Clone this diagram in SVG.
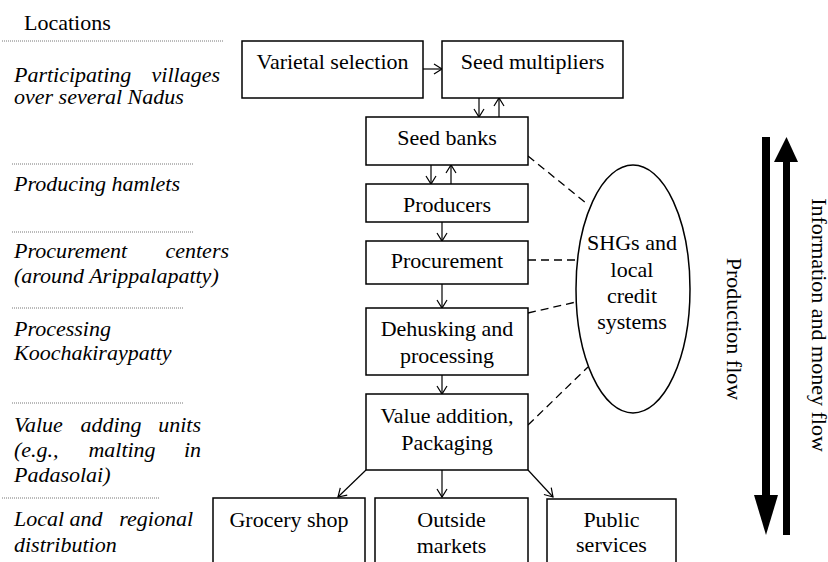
<svg xmlns="http://www.w3.org/2000/svg" width="828" height="562" viewBox="0 0 828 562">
<style>
  text { font-size: 22px; fill: #000; }
  .it { font-style: italic; }
  .c { text-anchor: middle; }
  .e { text-anchor: end; }
  .box { fill: #fff; stroke: #000; stroke-width: 1.5; }
  .dot { stroke: #777; stroke-width: 1; stroke-dasharray: 1 1; fill: none; }
  .arr { stroke: #000; stroke-width: 1.2; fill: none; marker-end: url(#open); }
  .dash { stroke: #000; stroke-width: 1.3; stroke-dasharray: 8 5; fill: none; }
</style>
<defs>
  <marker id="open" markerUnits="userSpaceOnUse" markerWidth="12" markerHeight="12" viewBox="-10 -6 12 12" refX="0" refY="0" orient="auto">
    <path d="M-8,-5 L0,0 L-8,5" fill="none" stroke="#000" stroke-width="1.2"/>
  </marker>
</defs>
<rect width="828" height="562" fill="#fff"/>

<g id="locations">
  <text font-family="Liberation Serif" x="24" y="30">Locations</text>
  <line class="dot" x1="2" y1="41" x2="223" y2="41"/>
  <text font-family="Liberation Serif" class="it" x="14" y="82">Participating</text>
  <text font-family="Liberation Serif" class="it e" x="220" y="82">villages</text>
  <text font-family="Liberation Serif" class="it" x="14" y="104">over several Nadus</text>
  <line class="dot" x1="12" y1="164" x2="194" y2="164"/>
  <text font-family="Liberation Serif" class="it" x="14" y="191">Producing hamlets</text>
  <line class="dot" x1="12" y1="232" x2="194" y2="232"/>
  <text font-family="Liberation Serif" class="it" x="14" y="258">Procurement</text>
  <text font-family="Liberation Serif" class="it e" x="229" y="258">centers</text>
  <text font-family="Liberation Serif" class="it" x="14" y="283">(around Arippalapatty)</text>
  <line class="dot" x1="12" y1="308" x2="184" y2="308"/>
  <text font-family="Liberation Serif" class="it" x="14" y="336">Processing</text>
  <text font-family="Liberation Serif" class="it" x="14" y="360">Koochakiraypatty</text>
  <line class="dot" x1="12" y1="403" x2="184" y2="403"/>
  <text font-family="Liberation Serif" class="it" x="14" y="432">Value</text>
  <text font-family="Liberation Serif" class="it c" x="111" y="432">adding</text>
  <text font-family="Liberation Serif" class="it e" x="201" y="432">units</text>
  <text font-family="Liberation Serif" class="it" x="14" y="457">(e.g.,</text>
  <text font-family="Liberation Serif" class="it c" x="122" y="457">malting</text>
  <text font-family="Liberation Serif" class="it e" x="201" y="457">in</text>
  <text font-family="Liberation Serif" class="it" x="14" y="482">Padasolai)</text>
  <line class="dot" x1="2" y1="498" x2="160" y2="498"/>
  <text font-family="Liberation Serif" class="it" x="14" y="526">Local</text>
  <text font-family="Liberation Serif" class="it c" x="86" y="526">and</text>
  <text font-family="Liberation Serif" class="it e" x="193" y="526">regional</text>
  <text font-family="Liberation Serif" class="it" x="14" y="552">distribution</text>
</g>

<g id="connectors">
  <line class="arr" x1="423" y1="69" x2="442" y2="69"/>
  <line class="arr" x1="479" y1="98" x2="479" y2="117"/>
  <line class="arr" x1="499" y1="117" x2="499" y2="98"/>
  <line class="arr" x1="431" y1="165" x2="431" y2="184"/>
  <line class="arr" x1="451" y1="184" x2="451" y2="165"/>
  <line class="arr" x1="442" y1="222" x2="442" y2="241"/>
  <line class="arr" x1="442" y1="284" x2="442" y2="308"/>
  <line class="arr" x1="442" y1="375" x2="442" y2="394"/>
  <line class="arr" x1="366" y1="470" x2="338" y2="497"/>
  <line class="arr" x1="442" y1="470" x2="442" y2="497"/>
  <line class="arr" x1="528" y1="470" x2="553" y2="497"/>
  <line class="dash" x1="528" y1="156" x2="586" y2="203"/>
  <line class="dash" x1="528" y1="260" x2="577" y2="260"/>
  <line class="dash" x1="528" y1="313" x2="576" y2="302"/>
  <line class="dash" x1="528" y1="425" x2="588" y2="367"/>
</g>

<g id="varietal-selection">
  <rect class="box" x="242" y="41" width="181" height="57"/>
  <text font-family="Liberation Serif" class="c" x="332.5" y="69">Varietal selection</text>
</g>
<g id="seed-multipliers">
  <rect class="box" x="442" y="41" width="181" height="57"/>
  <text font-family="Liberation Serif" class="c" x="532.5" y="69">Seed multipliers</text>
</g>
<g id="seed-banks">
  <rect class="box" x="366" y="117" width="162" height="48"/>
  <text font-family="Liberation Serif" class="c" x="447" y="145">Seed banks</text>
</g>
<g id="producers">
  <rect class="box" x="366" y="184" width="162" height="38"/>
  <text font-family="Liberation Serif" class="c" x="447" y="212">Producers</text>
</g>
<g id="procurement">
  <rect class="box" x="366" y="241" width="162" height="43"/>
  <text font-family="Liberation Serif" class="c" x="447" y="268">Procurement</text>
</g>
<g id="dehusking">
  <rect class="box" x="366" y="308" width="162" height="67"/>
  <text font-family="Liberation Serif" class="c" x="447" y="336">Dehusking and</text>
  <text font-family="Liberation Serif" class="c" x="447" y="363">processing</text>
</g>
<g id="value-addition">
  <rect class="box" x="366" y="394" width="162" height="76"/>
  <text font-family="Liberation Serif" class="c" x="447" y="423">Value addition,</text>
  <text font-family="Liberation Serif" class="c" x="447" y="450">Packaging</text>
</g>
<g id="grocery-shop">
  <rect class="box" x="213" y="498" width="152" height="80"/>
  <text font-family="Liberation Serif" class="c" x="289" y="527">Grocery shop</text>
</g>
<g id="outside-markets">
  <rect class="box" x="375" y="498" width="153" height="80"/>
  <text font-family="Liberation Serif" class="c" x="451.5" y="527">Outside</text>
  <text font-family="Liberation Serif" class="c" x="451.5" y="553">markets</text>
</g>
<g id="public-services">
  <rect class="box" x="547" y="499" width="129" height="80"/>
  <text font-family="Liberation Serif" class="c" x="611.5" y="527">Public</text>
  <text font-family="Liberation Serif" class="c" x="611.5" y="552">services</text>
</g>

<g id="shgs">
  <ellipse cx="633" cy="289" rx="57" ry="124" fill="#fff" stroke="#000" stroke-width="1.5"/>
  <text font-family="Liberation Serif" class="c" x="632" y="250">SHGs and</text>
  <text font-family="Liberation Serif" class="c" x="632" y="277">local</text>
  <text font-family="Liberation Serif" class="c" x="632" y="303">credit</text>
  <text font-family="Liberation Serif" class="c" x="632" y="329">systems</text>
</g>

<g id="production-flow">
  <rect x="762" y="137" width="8" height="359" fill="#000"/>
  <polygon points="754,495 778,495 766,535" fill="#000"/>
  <text font-family="Liberation Serif" class="c" transform="translate(727,329) rotate(90)">Production flow</text>
</g>
<g id="information-flow">
  <rect x="783" y="161" width="7" height="374" fill="#000"/>
  <polygon points="774,162 798,162 786.5,137" fill="#000"/>
  <text font-family="Liberation Serif" class="c" transform="translate(812,325) rotate(90)">Information and money flow</text>
</g>
</svg>
